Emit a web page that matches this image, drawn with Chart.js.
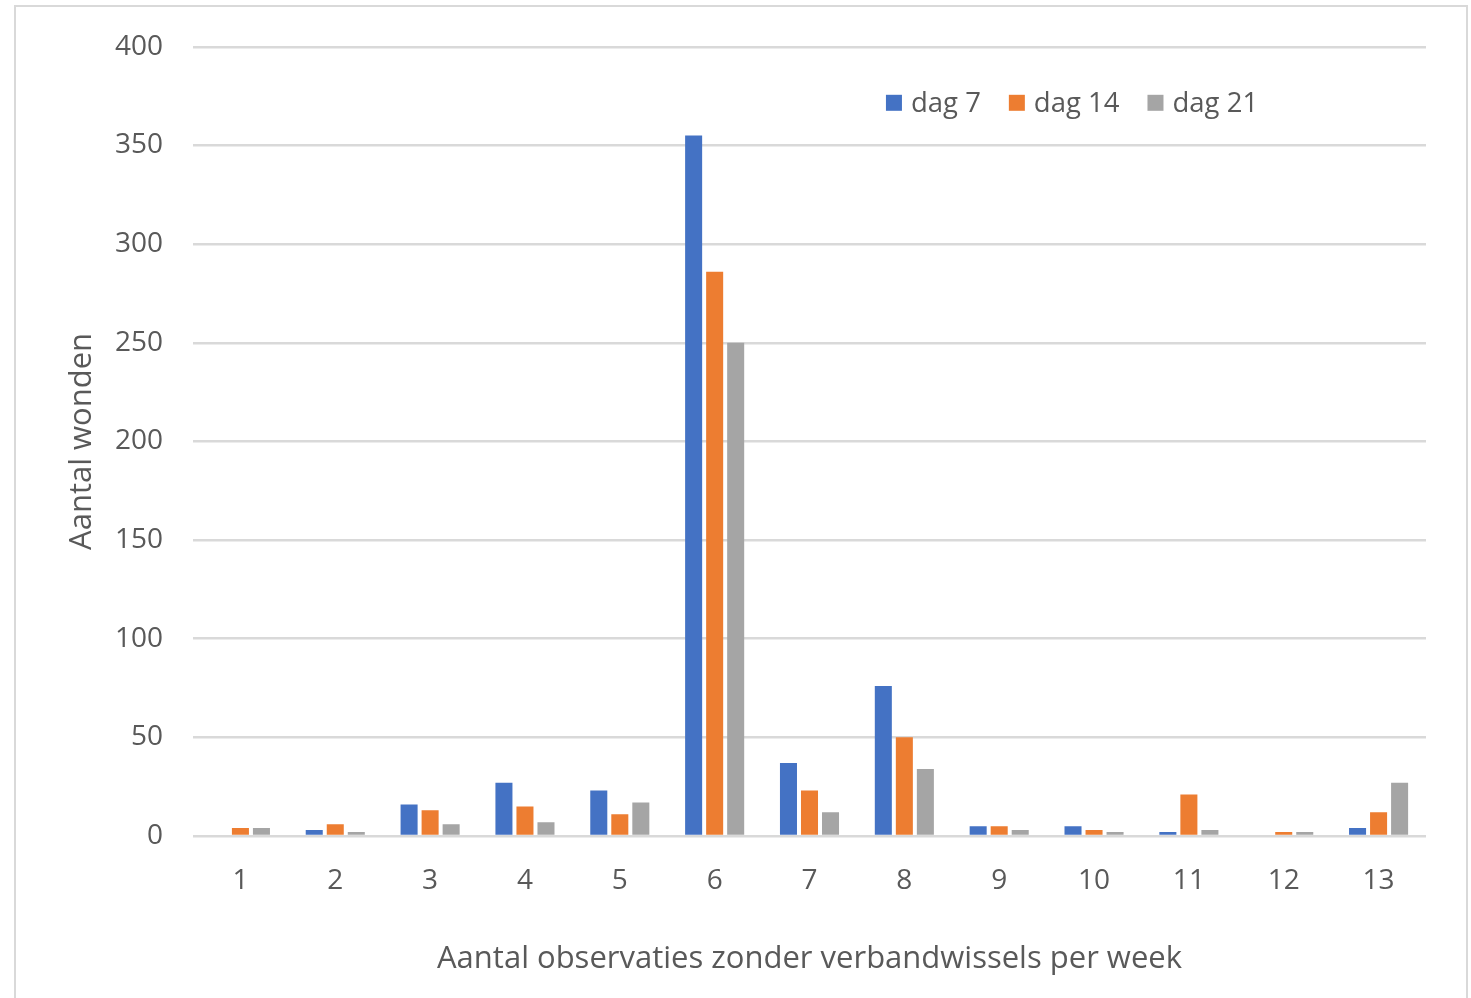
<!DOCTYPE html>
<html>
<head>
<meta charset="utf-8">
<script src="https://cdn.jsdelivr.net/npm/chart.js@4"></script>
<style>
    body { margin: 0; background: #fff; }
    #frame { position: absolute; left: 14px; top: 5px; width: 1450px; height: 1000px; border: 2px solid #d9d9d9; }
    #chart { position: absolute; left: 0; top: 0; }
</style>
</head>
<body>
<div id="frame"></div>
<canvas id="chart" width="1471" height="998"></canvas>
<script>
// categories: number of observations without dressing change per week
const weeks = ['1', '2', '3', '4', '5', '6', '7', '8', '9', '10', '11', '12', '13'];
const seriesNames = ['dag 7', 'dag 14', 'dag 21'];
const dag7 = [0, 3, 16, 27, 23, 355, 37, 76, 5, 5, 2, 0, 4];
const dag14 = [4, 6, 13, 15, 11, 286, 23, 50, 5, 3, 21, 2, 12];
const dag21 = [4, 2, 6, 7, 17, 250, 12, 34, 3, 2, 3, 2, 27];
const seriesColors = ['#4472C4', '#ED7D31', '#A5A5A5'];
const yTicks = [0, 50, 100, 150, 200, 250, 300, 350, 400];

const textColor = '#595959';
const fontFamily = '"Open Sans", "Liberation Sans", sans-serif';

// legend drawn inside the plot area, like the Excel original
const innerLegend = {
    id: 'innerLegend',
    afterDraw(chart) {
        const ctx = chart.ctx;
        const area = chart.chartArea;
        let x = area.left + (area.right - area.left) * 0.562;
        const y = area.top + 56;
        ctx.save();
        ctx.font = '27.5px ' + fontFamily;
        ctx.textBaseline = 'middle';
        ctx.textAlign = 'left';
        chart.data.datasets.forEach(ds => {
            ctx.fillStyle = ds.backgroundColor;
            ctx.fillRect(x, y - 8, 16, 16);
            ctx.fillStyle = textColor;
            ctx.fillText(ds.label, x + 25, y + 1);
            x += 25 + ctx.measureText(ds.label).width + 28;
        });
        ctx.restore();
    }
};

const datasets = [dag7, dag14, dag21].map((values, i) => ({
    label: seriesNames[i],
    data: values,
    backgroundColor: seriesColors[i],
    categoryPercentage: 0.665,
    barPercentage: 0.81
}));

new Chart(document.getElementById('chart'), {
    type: 'bar',
    data: { labels: weeks, datasets },
    options: {
        responsive: false,
        animation: false,
        layout: { padding: { left: 60, right: 45, top: 45, bottom: 16 } },
        plugins: {
            legend: { display: false },
            tooltip: { enabled: false }
        },
        scales: {
            x: {
                grid: { display: false },
                border: { display: false },
                ticks: { color: textColor, font: { family: fontFamily, size: 28 }, padding: 20 },
                title: {
                    display: true,
                    text: 'Aantal observaties zonder verbandwissels per week',
                    color: textColor,
                    font: { family: fontFamily, size: 31 }
                },
                afterFit(scale) { scale.height = 146; }
            },
            y: {
                min: 0,
                max: 400,
                afterBuildTicks(scale) { scale.ticks = yTicks.map(v => ({ value: v })); },
                grid: { color: '#d9d9d9', lineWidth: 2.5, drawTicks: false },
                border: { display: false },
                ticks: { color: textColor, font: { family: fontFamily, size: 28 }, padding: 30 },
                title: {
                    display: true,
                    text: 'Aantal wonden',
                    color: textColor,
                    font: { family: fontFamily, size: 31 }
                },
                afterFit(scale) { scale.width = 133; }
            }
        }
    },
    plugins: [innerLegend]
});
</script>
</body>
</html>
